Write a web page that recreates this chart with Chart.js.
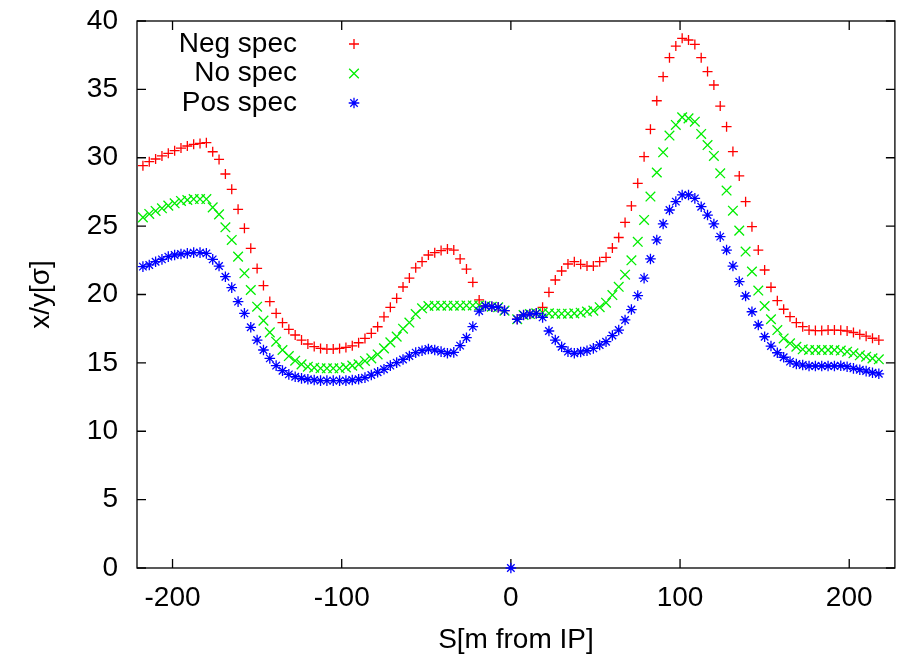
<!DOCTYPE html>
<html>
<head>
<meta charset="utf-8">
<script src="https://cdn.jsdelivr.net/npm/chart.js@4.4.1/dist/chart.umd.min.js"></script>
<style>
html,body{margin:0;padding:0;background:#ffffff;}
#wrap{width:903px;height:660px;}
</style>
</head>
<body>
<div id="wrap"><canvas id="c" width="903" height="660"></canvas></div>
<script>
// ---- data ----
const sPositions = [
 -217.5,-213.75,-210,-206.25,-202.5,-198.75,-195,-191.25,-187.5,-183.75,-180,
 -176.25,-172.5,-168.75,-165,-161.25,-157.5,-153.75,-150,-146.25,-142.5,
 -138.75,-135,-131.25,-127.5,-123.75,-120,-116.25,-112.5,-108.75,-105,
 -101.25,-97.5,-93.75,-90,-86.25,-82.5,-78.75,-75,-71.25,-67.5,
 -63.75,-60,-56.25,
 -52.5,-48.75,-45,-41.25,-37.5,-33.75,-30,-26.25,-22.5,-18.75,
 -15,-11.25,-7.5,-3.75,
 0,
 3.75,7.5,11.25,15,
 18.75,22.5,26.25,30,33.75,37.5,41.25,45,48.75,52.5,
 56.25,60,63.75,67.5,71.25,75,78.75,82.5,86.25,90,
 93.75,97.5,101.25,105,108.75,112.5,116.25,120,123.75,127.5,
 131.25,135,138.75,142.5,146.25,150,153.75,157.5,161.25,165,
 168.75,172.5,176.25,180,183.75,187.5,191.25,195,198.75,202.5,
 206.25,210,213.75,217.5
];
const negSpec = [
 29.42,29.71,29.91,30.13,30.32,30.52,30.71,30.86,30.98,31.05,31.10,
 30.44,29.88,28.81,27.69,26.23,24.84,23.38,21.91,20.65,19.48,
 18.62,17.94,17.45,17.04,16.67,16.38,16.19,16.06,16.01,16.01,
 16.06,16.13,16.25,16.47,16.79,17.16,17.64,18.37,19.06,19.72,
 20.55,21.20,21.95,
 22.40,22.89,23.06,23.21,23.33,23.25,22.60,21.86,20.89,19.60,
 19.16,19.11,19.06,18.82,
 null,
 18.19,18.50,18.57,18.62,
 19.06,20.16,21.06,21.72,22.23,22.40,22.21,22.08,22.08,22.40,
 22.72,23.40,24.17,25.27,26.48,28.13,30.08,32.08,34.17,35.93,
 37.32,38.17,38.73,38.61,38.29,37.32,36.30,35.32,33.78,32.27,
 30.45,28.67,26.79,24.96,23.25,21.79,20.53,19.55,18.92,18.38,
 17.94,17.65,17.40,17.36,17.36,17.40,17.40,17.38,17.33,17.22,
 17.08,16.95,16.80,16.67
];
const noSpec = [
 25.64,25.89,26.11,26.30,26.50,26.67,26.84,26.91,26.98,26.98,26.98,
 26.37,25.86,24.91,23.99,22.77,21.55,20.33,19.11,18.09,17.23,
 16.55,15.94,15.50,15.16,14.89,14.72,14.65,14.60,14.60,14.60,
 14.60,14.67,14.80,14.89,15.14,15.33,15.62,16.06,16.50,16.92,
 17.50,17.95,18.57,
 18.99,19.16,19.18,19.18,19.18,19.18,19.18,19.20,19.20,19.20,
 19.16,19.11,19.06,18.82,
 null,
 18.19,18.50,18.57,18.62,
 18.67,18.62,18.60,18.60,18.60,18.62,18.67,18.75,18.82,19.07,
 19.40,19.96,20.56,21.45,22.50,23.85,25.45,27.16,28.92,30.40,
 31.62,32.40,32.96,32.88,32.64,31.74,30.93,30.13,28.86,27.60,
 26.13,24.67,23.14,21.68,20.29,19.16,18.19,17.40,16.79,16.43,
 16.18,15.99,15.94,15.94,15.94,15.94,15.94,15.90,15.82,15.70,
 15.55,15.45,15.33,15.26
];
const posSpec = [
 22.04,22.16,22.40,22.57,22.77,22.89,22.96,23.01,23.06,23.06,23.01,
 22.57,22.08,21.30,20.50,19.48,18.62,17.60,16.67,15.94,15.33,
 14.80,14.43,14.16,13.99,13.87,13.80,13.75,13.70,13.70,13.70,
 13.70,13.70,13.75,13.80,13.92,14.11,14.31,14.53,14.80,15.02,
 15.25,15.50,15.75,
 15.89,16.01,15.94,15.82,15.70,15.77,16.26,16.84,17.65,18.79,
 19.16,19.11,19.06,18.82,
 0,
 18.19,18.50,18.57,18.62,
 18.33,17.33,16.67,16.18,15.82,15.70,15.80,15.89,16.06,16.31,
 16.55,17.00,17.40,18.14,18.90,19.92,21.20,22.60,23.99,25.16,
 26.18,26.79,27.28,27.28,27.03,26.42,25.81,25.16,24.23,23.25,
 22.08,20.94,19.89,18.74,17.77,16.91,16.23,15.74,15.41,15.09,
 14.92,14.84,14.77,14.77,14.77,14.77,14.77,14.79,14.72,14.60,
 14.50,14.40,14.28,14.20
];
const seriesLabels = ['Neg spec', 'No spec', 'Pos spec'];
const xTickValues = [-200, -100, 0, 100, 200];
const yTickValues = [0, 5, 10, 15, 20, 25, 30, 35, 40];
const xTitleText = 'S[m from IP]';
const yTitleText = 'x/y[σ]';

// ---- styling ----
const FONT_FAMILY = '"Liberation Sans", Arial, Helvetica, sans-serif';
const FONT_SIZE = 28;

function toPoints(values) {
  return sPositions.map((s, i) => ({ x: s, y: values[i] }));
}

const framePlugin = {
  id: 'gpFrame',
  beforeDatasetsDraw(chart) {
    const { ctx, chartArea, scales } = chart;
    const { left, right, top, bottom } = chartArea;
    const tl = 9;
    ctx.save();
    ctx.strokeStyle = '#000';
    ctx.lineWidth = 1.3;
    ctx.strokeRect(left, top, right - left, bottom - top);
    ctx.beginPath();
    scales.x.ticks.forEach(t => {
      const px = scales.x.getPixelForValue(t.value);
      ctx.moveTo(px, bottom); ctx.lineTo(px, bottom - tl);
      ctx.moveTo(px, top); ctx.lineTo(px, top + tl);
    });
    scales.y.ticks.forEach(t => {
      const py = scales.y.getPixelForValue(t.value);
      ctx.moveTo(left, py); ctx.lineTo(left + tl, py);
      ctx.moveTo(right, py); ctx.lineTo(right - tl, py);
    });
    ctx.stroke();
    ctx.restore();
  }
};

const legendPlugin = {
  id: 'gpLegend',
  afterDatasetsDraw(chart) {
    const { ctx, chartArea } = chart;
    const textRight = chartArea.left + 160;
    const markX = chartArea.left + 217;
    const y0 = chartArea.top + 23;
    const dy = 29.5;
    chart.data.datasets.forEach((ds, i) => {
      const yy = y0 + i * dy;
      ctx.save();
      ctx.font = FONT_SIZE + 'px ' + FONT_FAMILY;
      ctx.fillStyle = '#000';
      ctx.textAlign = 'right';
      ctx.textBaseline = 'middle';
      ctx.fillText(ds.label, textRight, yy);
      ctx.strokeStyle = ds.borderColor;
      ctx.fillStyle = ds.backgroundColor;
      ctx.lineWidth = ds.pointBorderWidth;
      Chart.helpers.drawPoint(ctx, {
        pointStyle: ds.pointStyle, radius: ds.pointRadius,
        borderWidth: ds.pointBorderWidth, rotation: 0
      }, markX, yy);
      ctx.restore();
    });
  }
};

const styles = [
  { color: '#ff0000', pointStyle: 'cross', radius: 5, order: 3 },
  { color: '#00ee00', pointStyle: 'crossRot', radius: 6.8, order: 2 },
  { color: '#0000ff', pointStyle: 'star', radius: 5.3, order: 1 }
];
const seriesValues = [negSpec, noSpec, posSpec];

const datasets = seriesValues.map((vals, i) => ({
  label: seriesLabels[i],
  data: toPoints(vals),
  order: styles[i].order,
  showLine: false,
  pointStyle: styles[i].pointStyle,
  pointRadius: styles[i].radius,
  pointHoverRadius: styles[i].radius,
  pointBorderWidth: 1.3,
  borderColor: styles[i].color,
  backgroundColor: styles[i].color,
  clip: false
}));

const tickFont = { family: FONT_FAMILY, size: FONT_SIZE };

new Chart(document.getElementById('c'), {
  type: 'scatter',
  data: { datasets },
  options: {
    responsive: false,
    animation: false,
    devicePixelRatio: 1,
    layout: { padding: { top: 21, right: 8, bottom: 0, left: 0 } },
    plugins: { legend: { display: false }, tooltip: { enabled: false } },
    scales: {
      x: {
        type: 'linear',
        min: -221, max: 227,
        grid: { display: false, drawTicks: false },
        border: { display: false },
        afterBuildTicks: s => { s.ticks = xTickValues.map(v => ({ value: v })); },
        afterFit: s => { s.height = 92; s.paddingLeft = 0; s.paddingRight = 0; },
        ticks: { font: tickFont, color: '#000', padding: 13, maxRotation: 0 },
        title: { display: true, text: xTitleText, font: tickFont, color: '#000',
                 padding: { top: 0, bottom: 3 } }
      },
      y: {
        type: 'linear',
        min: 0, max: 40,
        grid: { display: false, drawTicks: false },
        border: { display: false },
        afterBuildTicks: s => { s.ticks = yTickValues.map(v => ({ value: v })); },
        afterFit: s => { s.width = 137; s.paddingTop = 0; s.paddingBottom = 0; },
        ticks: { font: tickFont, color: '#000', padding: 19 },
        title: { display: true, text: yTitleText, font: tickFont, color: '#000',
                 padding: { top: 24, bottom: 0 } }
      }
    }
  },
  plugins: [framePlugin, legendPlugin]
});
</script>
</body>
</html>
